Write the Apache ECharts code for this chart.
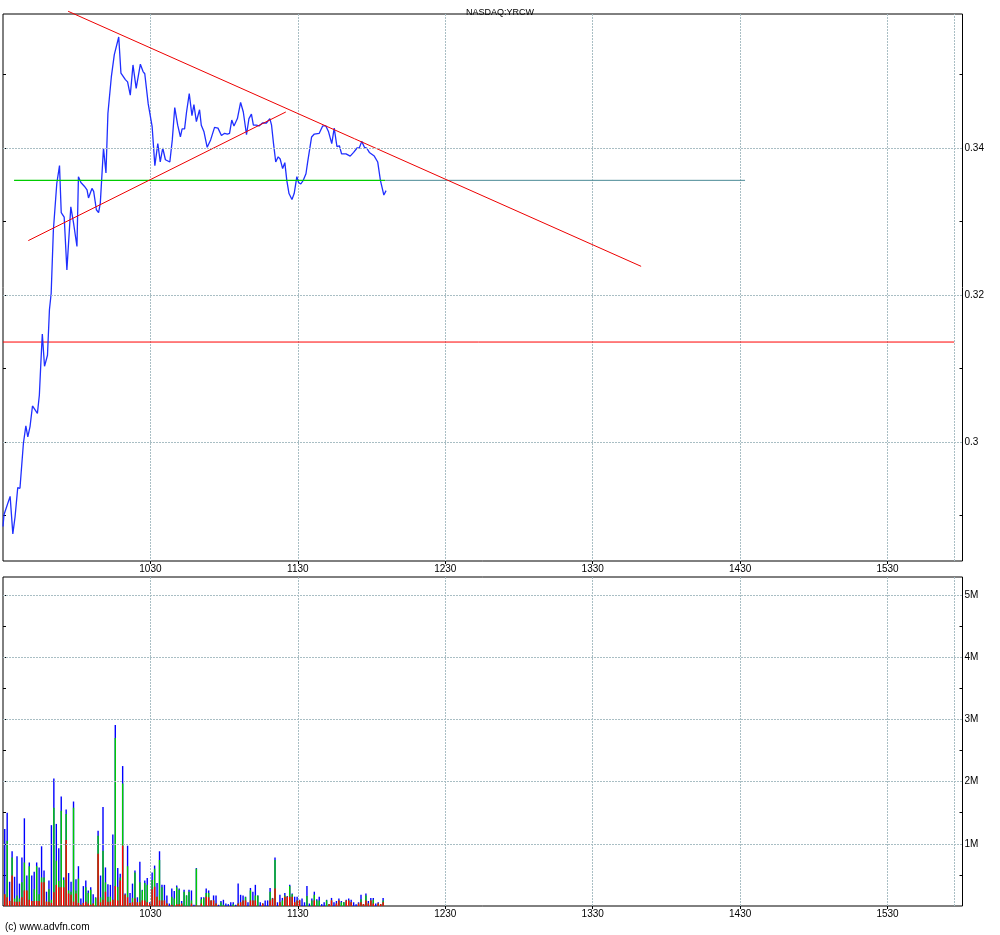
<!DOCTYPE html>
<html><head><meta charset="utf-8">
<script src="https://cdn.jsdelivr.net/npm/echarts@6/dist/echarts.min.js"></script>
<style>html,body{margin:0;padding:0;background:#fff}#c{width:1000px;height:935px}</style>
</head><body><div id="c"></div>
<script>
// ---- data (minutes after 09:30) ----
const priceTimes = [0,0.4,2.9,4.0,4.9,6.0,6.9,8.3,9.3,10.1,11.0,12.0,12.8,14.0,14.8,15.4,16.0,16.9,18.1,18.9,19.6,20.5,21.9,23.0,23.7,24.9,26.0,27.6,28.7,30.1,30.7,31.7,33.1,34.2,34.8,36.2,36.9,38.0,38.9,39.6,40.9,41.9,42.7,44.1,45.3,47.1,48.0,49.8,50.7,51.8,52.9,54.2,55.0,55.9,57.0,57.7,59.1,59.7,60.7,61.8,63.0,64.0,65.0,66.1,67.9,68.9,69.9,71.1,72.2,72.9,73.9,74.7,75.8,76.9,77.7,78.7,80.0,80.7,81.8,83.1,84.5,86.1,87.5,88.9,90.2,91.3,92.2,93.1,94.0,95.4,96.7,97.8,99.1,100.1,101.1,101.9,103.1,104.2,105.6,107.2,108.6,109.3,110.1,111.0,112.0,112.8,113.8,114.7,115.5,116.4,117.6,118.5,119.6,120.3,121.2,122.2,123.3,124.0,124.6,125.6,126.7,128.7,130.1,131.4,132.5,133.8,134.8,135.9,136.9,137.8,139.6,141.3,142.7,144.1,145.0,146.0,147.1,148.0,149.1,151.1,152.5,153.6,155.0,155.9];
const priceVals = [0.2885,0.2901,0.2926,0.2875,0.2898,0.2938,0.2937,0.2998,0.3022,0.3007,0.3021,0.3049,0.3048,0.3039,0.3064,0.3107,0.3147,0.3103,0.3118,0.3180,0.3202,0.3288,0.3352,0.3376,0.3312,0.3306,0.3234,0.3320,0.3298,0.3266,0.3361,0.3353,0.3348,0.3343,0.3332,0.3345,0.3341,0.3316,0.3312,0.3325,0.3400,0.3366,0.3447,0.3497,0.3527,0.3551,0.3502,0.3493,0.3490,0.3472,0.3513,0.3481,0.3481,0.3514,0.3504,0.3501,0.3460,0.3460,0.3429,0.3376,0.3406,0.3381,0.3400,0.3384,0.3381,0.3411,0.3455,0.3431,0.3415,0.3426,0.3426,0.3449,0.3474,0.3444,0.3459,0.3436,0.3452,0.3431,0.3422,0.3401,0.3411,0.3428,0.3427,0.3417,0.3420,0.3419,0.3420,0.3438,0.3430,0.3440,0.3462,0.3449,0.3418,0.3440,0.3446,0.3431,0.3431,0.3430,0.3434,0.3434,0.3440,0.3431,0.3406,0.3381,0.3388,0.3385,0.3372,0.3380,0.3356,0.3338,0.3330,0.3338,0.3361,0.3353,0.3351,0.3356,0.3365,0.3381,0.3379,0.3415,0.3419,0.3420,0.3430,0.3430,0.3422,0.3406,0.3427,0.3402,0.3403,0.3392,0.3392,0.3389,0.3394,0.3400,0.3400,0.3409,0.3401,0.3400,0.3394,0.3389,0.3381,0.3356,0.3336,0.3342];

// drawn study lines
const trendDownT = [26.5, 259.7], trendDownP = [0.3586, 0.3239];
const trendUpT = [10.3, 115.1], trendUpP = [0.3274, 0.3449];
const supportT = [4.5, 155.5], supportP = [0.3356, 0.3356];
const supportExtT = [155.5, 302.0], supportExtP = [0.3356, 0.3356];
const levelT = [0, 387.1], levelP = [0.3136, 0.3136];

// volume (millions) per minute bar: red / green / blue stacked parts
const volRed = [0.19,0.14,0.08,0.49,0.07,0.07,0.07,0.14,0.25,0.25,0.10,0.08,0.08,0.08,0.08,0.38,0.38,0.07,0.07,0.05,0.22,0.34,0.30,0.30,0.30,1.06,0.20,0.18,0.07,0.20,0.05,0.02,0.05,0.07,0.04,0.02,0.04,0.00,0.84,0.06,0.10,0.23,0.07,0.07,0.10,0.32,0.09,0.41,0.97,0.18,0.14,0.05,0.06,0.12,0.06,0.06,0.09,0.09,0.06,0.04,0.27,0.31,0.15,0.09,0.09,0.09,0.04,0.00,0.02,0.00,0.03,0.03,0.04,0.00,0.00,0.00,0.04,0.00,0.01,0.00,0.04,0.00,0.15,0.14,0.09,0.09,0.04,0.00,0.00,0.00,0.00,0.00,0.00,0.00,0.00,0.04,0.06,0.09,0.09,0.00,0.09,0.09,0.09,0.00,0.00,0.04,0.00,0.00,0.09,0.12,0.28,0.00,0.06,0.00,0.15,0.15,0.15,0.15,0.06,0.09,0.09,0.00,0.00,0.00,0.00,0.00,0.09,0.00,0.00,0.00,0.00,0.00,0.03,0.09,0.00,0.04,0.09,0.00,0.00,0.09,0.09,0.06,0.00,0.00,0.04,0.06,0.03,0.09,0.04,0.09,0.04,0.00,0.04,0.03,0.06];
const volGreen = [0.00,0.91,0.00,0.29,0.05,0.10,0.05,0.24,0.45,0.00,0.54,0.00,0.19,0.56,0.11,0.08,0.08,0.00,0.20,0.05,1.36,0.39,0.10,1.23,0.12,0.42,0.05,0.05,1.51,0.05,0.39,0.00,0.00,0.23,0.17,0.24,0.00,0.13,0.29,0.08,0.79,0.15,0.08,0.08,0.00,2.38,0.22,0.05,1.00,0.00,0.50,0.00,0.07,0.42,0.00,0.32,0.16,0.28,0.28,0.00,0.15,0.29,0.00,0.65,0.21,0.00,0.00,0.00,0.13,0.12,0.27,0.23,0.00,0.23,0.17,0.23,0.05,0.00,0.59,0.00,0.07,0.13,0.06,0.07,0.00,0.00,0.00,0.00,0.06,0.02,0.00,0.00,0.00,0.03,0.00,0.00,0.00,0.00,0.05,0.00,0.16,0.00,0.08,0.17,0.00,0.00,0.00,0.00,0.14,0.00,0.46,0.00,0.00,0.09,0.02,0.00,0.17,0.04,0.00,0.00,0.00,0.00,0.00,0.16,0.00,0.09,0.09,0.09,0.09,0.00,0.00,0.09,0.00,0.00,0.00,0.00,0.00,0.06,0.06,0.00,0.00,0.00,0.00,0.00,0.00,0.05,0.00,0.08,0.00,0.00,0.06,0.00,0.00,0.00,0.03];
const volBlue = [1.05,0.45,0.31,0.10,0.35,0.63,0.24,0.40,0.71,0.24,0.06,0.41,0.28,0.06,0.43,0.50,0.11,0.16,0.14,1.20,0.47,0.59,0.53,0.23,0.04,0.07,0.28,0.16,0.10,0.18,0.20,0.10,0.27,0.11,0.04,0.04,0.15,0.01,0.08,0.35,0.70,0.24,0.20,0.19,1.05,0.21,0.30,0.06,0.28,0.02,0.33,0.16,0.23,0.03,0.08,0.33,0.01,0.04,0.11,0.02,0.12,0.05,0.22,0.14,0.04,0.25,0.13,0.04,0.13,0.12,0.03,0.02,0.04,0.03,0.00,0.03,0.16,0.02,0.01,0.00,0.03,0.01,0.07,0.04,0.00,0.08,0.13,0.02,0.02,0.08,0.04,0.03,0.06,0.03,0.02,0.32,0.12,0.08,0.01,0.06,0.04,0.14,0.17,0.00,0.06,0.00,0.09,0.09,0.06,0.01,0.04,0.06,0.12,0.04,0.04,0.01,0.02,0.01,0.09,0.06,0.01,0.12,0.06,0.16,0.04,0.03,0.05,0.02,0.06,0.03,0.06,0.01,0.00,0.04,0.06,0.04,0.03,0.02,0.00,0.01,0.03,0.04,0.06,0.03,0.02,0.07,0.00,0.03,0.04,0.04,0.03,0.04,0.02,0.00,0.04];

const priceMajor = [0.30, 0.32, 0.34];
const priceMinor = [0.29, 0.31, 0.33, 0.35];
const priceAll = [0.29, 0.30, 0.31, 0.32, 0.33, 0.34, 0.35];
const volMajor = [1, 2, 3, 4, 5];
const volMinor = [0.5, 1.5, 2.5, 3.5, 4.5];
const volAll = [0.5, 1, 1.5, 2, 2.5, 3, 3.5, 4, 4.5, 5];
const closeLineT = 387.1;

// ---- build ----
const volTimes = volRed.map((_, i) => i + 0.7);
const pairs = (t, v) => t.map((x, i) => [x, v[i]]);
const cumRG = volRed.map((r, i) => r + volGreen[i]);
const cumAll = cumRG.map((s, i) => s + volBlue[i]);
const GRID = '#a9bec4';
const FONT = 'Liberation Sans';
const timeFmt = v => {
  if (v <= 1 || v >= 385) return '';
  const m = 570 + Math.round(v);
  return Math.floor(m / 60) + String(m % 60).padStart(2, '0');
};
const xBase = gi => ({
  type: 'value', gridIndex: gi, min: 0, max: 390.5, interval: 60,
  axisLine: {show: false},
  axisTick: {show: true, length: 3, lineStyle: {color: '#000'}},
  axisLabel: {formatter: timeFmt, color: '#000', fontSize: 10, fontFamily: FONT, margin: 3, showMinLabel: false, showMaxLabel: false},
  splitLine: {show: true, showMinLine: false, showMaxLine: false, lineStyle: {color: GRID, type: [2, 1], width: 1}}
});
const tickAxis = (gi, pos, min, max, vals, inside, len) => ({
  type: 'value', gridIndex: gi, position: pos, min: min, max: max, scale: true,
  axisLine: {show: false}, splitLine: {show: false}, axisLabel: {show: false},
  axisTick: {show: true, inside: inside, length: len, customValues: vals, lineStyle: {color: '#000'}}
});
const yMin = 0.28381, yMax = 0.35823;
const vMax = 5.29;

const chart = echarts.init(document.getElementById('c'), null, {renderer: 'canvas'});
chart.setOption({
  animation: false,
  backgroundColor: '#fff',
  title: {text: 'NASDAQ:YRCW', left: 'center', top: 3, textStyle: {fontSize: 9, fontWeight: 'normal', color: '#000', fontFamily: FONT}},
  graphic: [{type: 'text', left: 5, top: 922, style: {text: '(c) www.advfn.com', fontSize: 10, fill: '#000', fontFamily: FONT}}],
  grid: [
    {left: 3, right: 37.5, top: 14, height: 547, show: true, borderColor: '#000', borderWidth: 1, backgroundColor: '#fff', containLabel: false},
    {left: 3, right: 37.5, top: 577, height: 329, show: true, borderColor: '#000', borderWidth: 1, backgroundColor: '#fff', containLabel: false}
  ],
  xAxis: [xBase(0), xBase(1)],
  yAxis: [
    {type: 'value', gridIndex: 0, position: 'right', min: yMin, max: yMax, scale: true,
     axisLine: {show: false}, splitLine: {show: false},
     axisTick: {show: true, length: 4, customValues: priceMajor, lineStyle: {color: '#000'}},
     axisLabel: {customValues: priceMajor, formatter: v => String(+v.toFixed(3)), color: '#000', fontSize: 10, fontFamily: FONT, margin: 2}},
    tickAxis(0, 'right', yMin, yMax, priceMinor, true, 3),
    tickAxis(0, 'left', yMin, yMax, priceAll, true, 3),
    {type: 'value', gridIndex: 1, position: 'right', min: 0, max: vMax,
     axisLine: {show: false}, splitLine: {show: false},
     axisTick: {show: true, length: 4, customValues: volMajor, lineStyle: {color: '#000'}},
     axisLabel: {customValues: volMajor, formatter: v => Math.round(v) + 'M', color: '#000', fontSize: 10, fontFamily: FONT, margin: 2}},
    tickAxis(1, 'right', 0, vMax, volMinor, true, 3),
    tickAxis(1, 'left', 0, vMax, volAll, true, 3)
  ],
  series: [
    {type: 'line', name: 'grid', xAxisIndex: 0, yAxisIndex: 0, data: [], silent: true,
     markLine: {silent: true, symbol: 'none', label: {show: false},
       lineStyle: {color: GRID, type: [2, 1], width: 1},
       data: priceMajor.map(v => ({yAxis: v})).concat([{xAxis: closeLineT}])}},
    {type: 'line', name: 'gridv', xAxisIndex: 1, yAxisIndex: 3, data: [], silent: true,
     markLine: {silent: true, symbol: 'none', label: {show: false},
       lineStyle: {color: GRID, type: [2, 1], width: 1},
       data: volMajor.map(v => ({yAxis: v})).concat([{xAxis: closeLineT}])}},
    {type: 'line', name: 'level', xAxisIndex: 0, yAxisIndex: 0, data: pairs(levelT, levelP), symbol: 'none',
     lineStyle: {color: '#ff0000', width: 1}, silent: true},
    {type: 'line', name: 'supportExt', xAxisIndex: 0, yAxisIndex: 0, data: pairs(supportExtT, supportExtP), symbol: 'none',
     lineStyle: {color: '#4a8a96', width: 1}, silent: true},
    {type: 'line', name: 'price', xAxisIndex: 0, yAxisIndex: 0, data: pairs(priceTimes, priceVals), symbol: 'none',
     lineStyle: {color: '#1f2fff', width: 1.3}, silent: true},
    {type: 'line', name: 'support', xAxisIndex: 0, yAxisIndex: 0, data: pairs(supportT, supportP), symbol: 'none',
     lineStyle: {color: '#00cc00', width: 1.3}, silent: true},
    {type: 'line', name: 'trendUp', xAxisIndex: 0, yAxisIndex: 0, data: pairs(trendUpT, trendUpP), symbol: 'none',
     lineStyle: {color: '#ee0000', width: 1}, silent: true},
    {type: 'line', name: 'trendDown', xAxisIndex: 0, yAxisIndex: 0, data: pairs(trendDownT, trendDownP), symbol: 'none',
     lineStyle: {color: '#ee0000', width: 1}, clip: false, silent: true},
    {type: 'bar', name: 'vb', xAxisIndex: 1, yAxisIndex: 3, barWidth: 1.4, barGap: '-100%', data: pairs(volTimes, cumAll), itemStyle: {color: '#0000ff'}, silent: true},
    {type: 'bar', name: 'vg', xAxisIndex: 1, yAxisIndex: 3, barWidth: 1.4, barGap: '-100%', data: pairs(volTimes, cumRG), itemStyle: {color: '#00cc00'}, silent: true},
    {type: 'bar', name: 'vr', xAxisIndex: 1, yAxisIndex: 3, barWidth: 1.4, barGap: '-100%', data: pairs(volTimes, volRed), itemStyle: {color: '#ff0000'}, silent: true}
  ]
});
</script></body></html>
